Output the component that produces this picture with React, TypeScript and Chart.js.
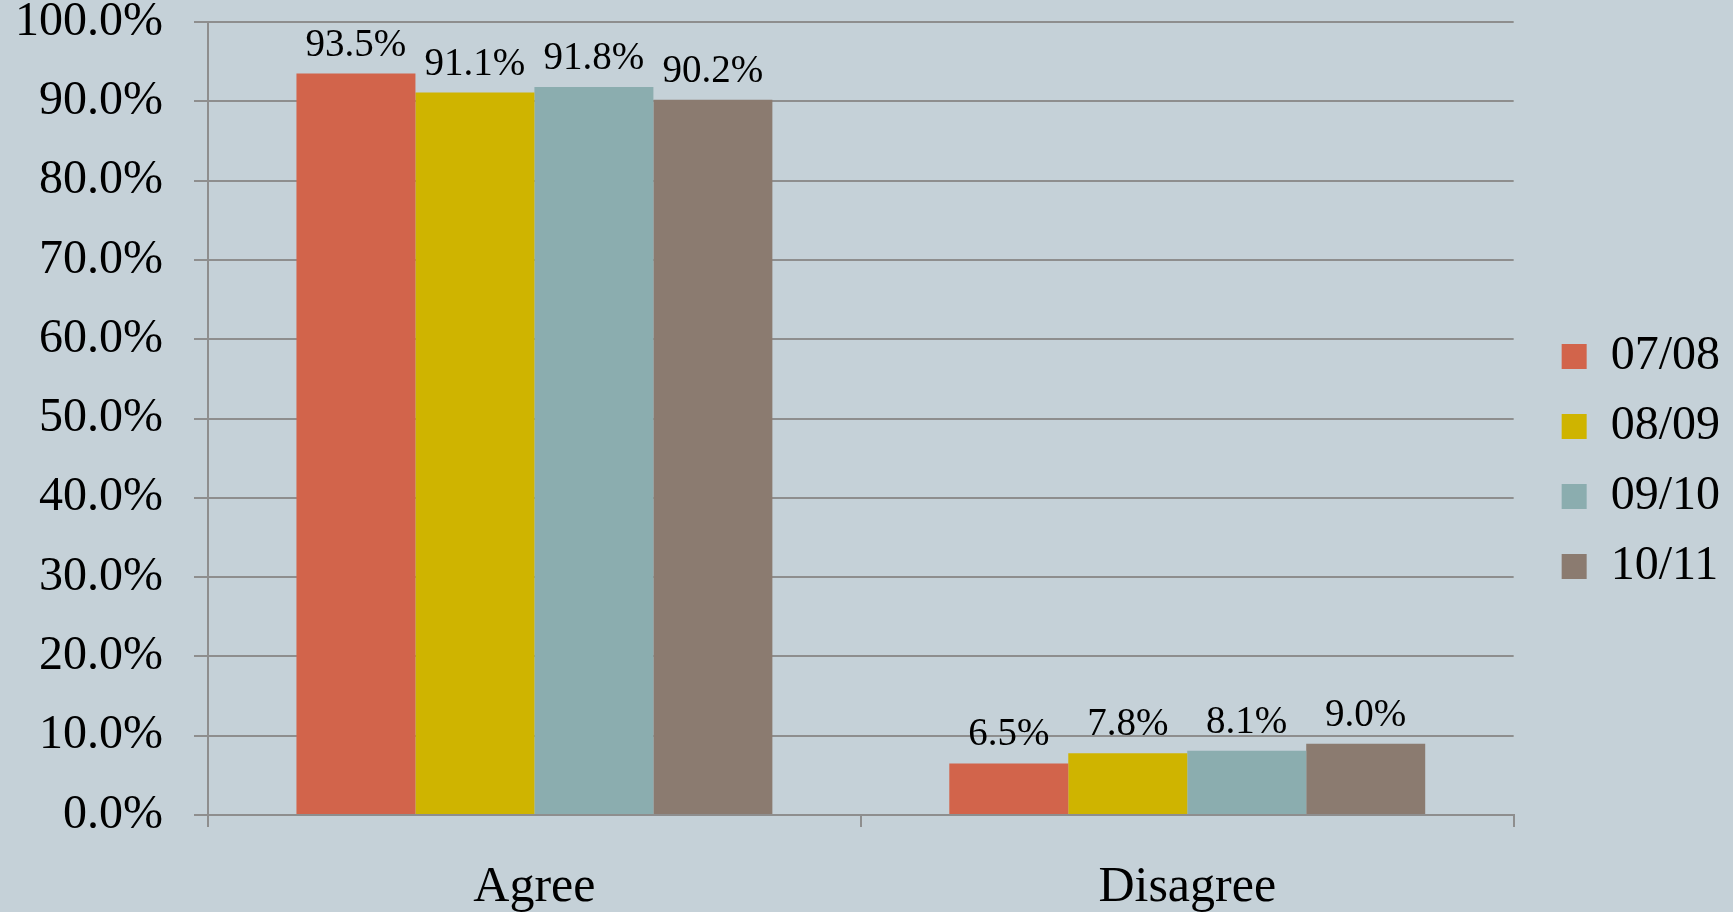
import React, { useEffect, useRef } from "react";
import { Chart, registerables } from "chart.js";

Chart.register(...registerables);

const categories = ["Agree", "Disagree"];
const seriesLabels = ["07/08", "08/09", "09/10", "10/11"];
const values0708 = [93.5, 6.5];
const values0809 = [91.1, 7.8];
const values0910 = [91.8, 8.1];
const values1011 = [90.2, 9.0];
const seriesColors = ["#D2644B", "#CFB400", "#8BADAF", "#8B7B70"];
const yTickValues = [0, 10, 20, 30, 40, 50, 60, 70, 80, 90, 100];

const FONT = "'Liberation Serif', 'Times New Roman', serif";
const GRID = "#8E8E8E";
const BG = "#C5D1D8";

const fmt = (v: number) => v.toFixed(1) + "%";

const dataLabelPlugin = {
  id: "barValueLabels",
  afterDatasetsDraw(chart: any) {
    const ctx = chart.ctx;
    ctx.save();
    ctx.font = `39px ${FONT}`;
    ctx.fillStyle = "#000";
    ctx.textAlign = "center";
    ctx.textBaseline = "alphabetic";
    chart.data.datasets.forEach((ds: any, i: number) => {
      const meta = chart.getDatasetMeta(i);
      meta.data.forEach((bar: any, j: number) => {
        ctx.fillText(fmt(ds.data[j]), bar.x, bar.y - 18);
      });
    });
    ctx.restore();
  },
};

export default function App() {
  const ref = useRef<HTMLCanvasElement | null>(null);

  useEffect(() => {
    if (!ref.current) return;
    const series = [values0708, values0809, values0910, values1011];
    const chart = new Chart(ref.current, {
      type: "bar",
      data: {
        labels: categories,
        datasets: series.map((d, i) => ({
          label: seriesLabels[i],
          data: d,
          backgroundColor: seriesColors[i],
          borderWidth: 0,
          barPercentage: 1,
          categoryPercentage: 0.729,
        })),
      },
      options: {
        responsive: false,
        animation: false,
        devicePixelRatio: 1,
        layout: { padding: { top: 11, right: 3, left: 0, bottom: 0 } },
        plugins: {
          tooltip: { enabled: false },
          legend: {
            position: "right",
            align: "center",
            labels: {
              color: "#000",
              font: { family: FONT, size: 48 },
              boxWidth: 25,
              boxHeight: 25,
              padding: 22,
            },
          },
        },
        scales: {
          x: {
            type: "category",
            offset: true,
            grid: {
              offset: true,
              drawOnChartArea: false,
              tickLength: 12,
              color: GRID,
              lineWidth: 2,
            },
            border: { color: GRID, width: 2 },
            ticks: {
              color: "#000",
              font: { family: FONT, size: 50 },
              padding: 31,
              maxRotation: 0,
            },
            afterFit: (s: any) => {
              s.height = 97;
              s.paddingLeft = 0;
              s.paddingRight = 0;
            },
          },
          y: {
            type: "linear",
            min: 0,
            max: 100,
            grid: { color: GRID, lineWidth: 2, tickLength: 14 },
            border: { color: GRID, width: 2 },
            ticks: {
              color: "#000",
              font: { family: FONT, size: 48 },
              padding: 31,
              callback: (v: any) => fmt(Number(v)),
            },
            afterBuildTicks: (s: any) => {
              s.ticks = yTickValues.map((v) => ({ value: v }));
            },
            afterFit: (s: any) => {
              s.width = 208;
              s.paddingTop = 22;
              s.paddingBottom = 0;
            },
          },
          yPad: {
            type: "linear",
            position: "right",
            display: true,
            grid: { display: false },
            ticks: { display: false },
            border: { display: false },
            afterFit: (s: any) => {
              s.width = 26;
              s.paddingTop = 0;
              s.paddingBottom = 0;
            },
          },
        },
      },
      plugins: [dataLabelPlugin],
    } as any);
    return () => chart.destroy();
  }, []);

  return (
    <div
      style={{
        position: "fixed",
        left: 0,
        top: 0,
        width: 1733,
        height: 912,
        background: BG,
      }}
    >
      <canvas ref={ref} width={1733} height={912} style={{ display: "block" }} />
    </div>
  );
}
